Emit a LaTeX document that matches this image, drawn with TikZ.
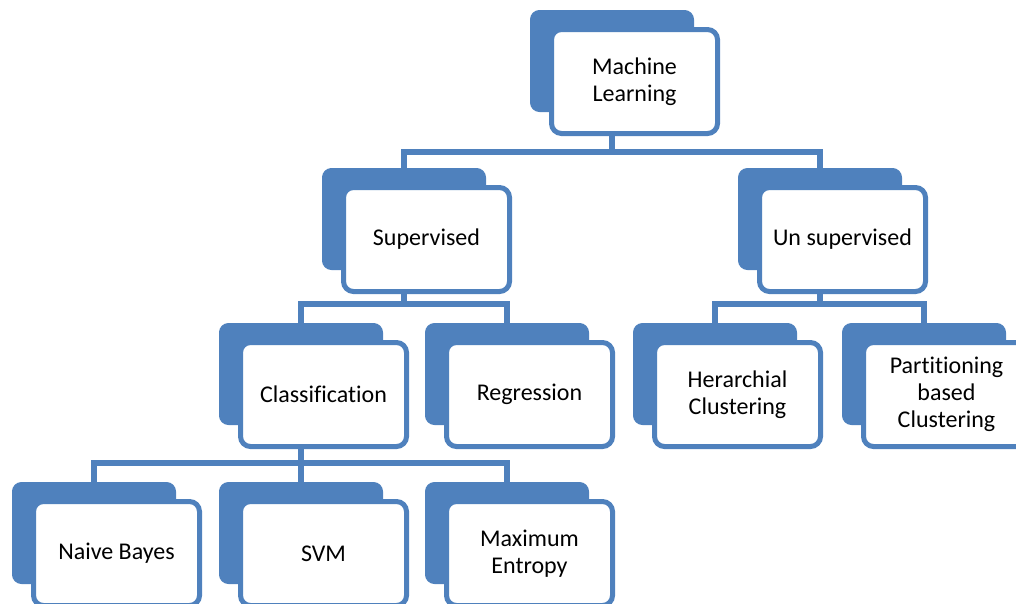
\documentclass[tikz,border=0pt]{standalone}
\usepackage{fontspec}
\setmainfont{Carlito}[Ligatures=NoCommon]
\usetikzlibrary{calc}
\definecolor{smblue}{RGB}{79,129,189}
\tikzset{
  backbox/.style={draw=smblue, fill=smblue, line width=1pt, rounded corners=9pt,
    minimum width=163pt, minimum height=101pt, anchor=north west, inner sep=0pt},
  frontbox/.style={draw=smblue, fill=white, line width=5pt, rounded corners=10pt,
    minimum width=166pt, minimum height=104pt, anchor=north west, inner sep=0pt,
    align=center, font=\fontsize{24}{27}\selectfont},
  conn/.style={draw=smblue, line width=5.5pt}
}
% #1 name, #2 x, #3 y (top-left of back box), #4 text
\newcommand{\mlnode}[4]{%
  \node[backbox] (#1-b) at (#2,#3) {};
  \node[frontbox] (#1) at ($(#2,#3)+(19,17)$) {#4};
}
\begin{document}
\begin{tikzpicture}[x=1pt,y=-1pt]
\useasboundingbox (0,0) rectangle (1016,603);
\begin{scope}
\clip (0,0) rectangle (1016,603);
\coordinate (bus1) at (0,152);
\coordinate (bus2) at (0,304);
\coordinate (bus3) at (0,463);
\mlnode{ml}{530}{10}{Machine\\Learning}
\mlnode{sup}{322}{168}{Supervised}
\mlnode{uns}{738}{168}{Un supervised}
\mlnode{cls}{219}{323}{Classification}
\mlnode{reg}{425}{323}{Regression}
\mlnode{her}{633}{323}{Herarchial\\Clustering}
\mlnode{par}{842}{323}{Partitioning\\based\\Clustering}
\mlnode{nb}{12}{482}{Naive Bayes}
\mlnode{svm}{219}{482}{SVM}
\mlnode{me}{425}{482}{Maximum\\Entropy}
\draw[conn] (ml-b.south |- ml.south) -- (ml-b.south |- bus1);
\draw[conn] (sup-b.north) -- (sup-b.north |- bus1) -- (uns-b.north |- bus1) -- (uns-b.north);
\draw[conn] (sup-b.south |- sup.south) -- (sup-b.south |- bus2);
\draw[conn] (cls-b.north) -- (cls-b.north |- bus2) -- (reg-b.north |- bus2) -- (reg-b.north);
\draw[conn] (uns-b.south |- uns.south) -- (uns-b.south |- bus2);
\draw[conn] (her-b.north) -- (her-b.north |- bus2) -- (par-b.north |- bus2) -- (par-b.north);
\draw[conn] (cls-b.south |- cls.south) -- (cls-b.south |- bus3);
\draw[conn] (nb-b.north) -- (nb-b.north |- bus3) -- (me-b.north |- bus3) -- (me-b.north);
\draw[conn] (svm-b.north) -- (svm-b.north |- bus3);
\end{scope}
\end{tikzpicture}
\end{document}
